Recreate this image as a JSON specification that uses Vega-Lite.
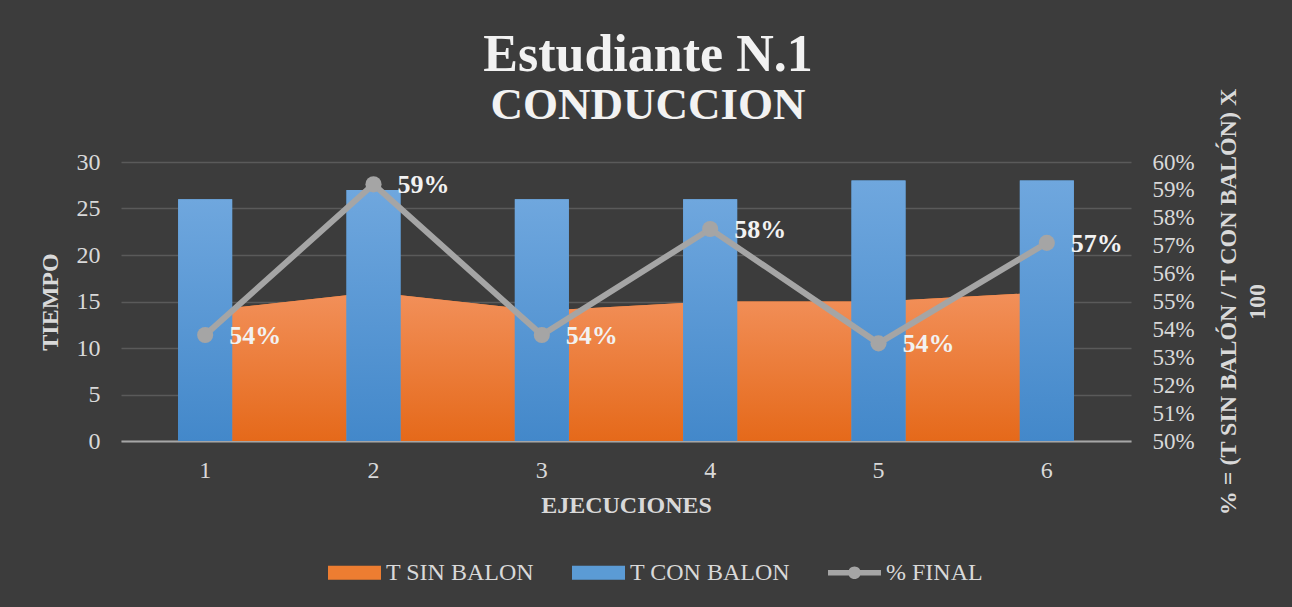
{
  "$schema": "https://vega.github.io/schema/vega-lite/v6.json",
  "width": 1010,
  "height": 279,
  "autosize": {"type": "none"},
  "padding": {"left": 121, "top": 162, "right": 161, "bottom": 166},
  "background": "#3c3c3c",
  "config": {
    "view": {"stroke": null},
    "axis": {"labelFont": "Liberation Serif", "titleFont": "Liberation Serif", "labelColor": "#d9d9d9", "titleColor": "#d9d9d9", "labelFontSize": 24, "titleFontSize": 24, "titleFontWeight": "bold", "ticks": false}
  },
  "title": {
    "text": "Estudiante N.1",
    "subtitle": "CONDUCCION",
    "anchor": "middle",
    "frame": "group",
    "font": "Liberation Serif",
    "fontSize": 52,
    "fontWeight": "bold",
    "color": "#f2f2f2",
    "subtitleFont": "Liberation Serif",
    "subtitleFontSize": 45,
    "subtitleFontWeight": "bold",
    "subtitleColor": "#f2f2f2",
    "subtitlePadding": 1,
    "offset": 0,
    "dx": 22,
    "dy": 41
  },
  "data": {
    "values": [
      {"e": "1", "sin": 14, "con": 26, "pct": 0.538},
      {"e": "2", "sin": 16, "con": 27, "pct": 0.592},
      {"e": "3", "sin": 14, "con": 26, "pct": 0.538},
      {"e": "4", "sin": 15, "con": 26, "pct": 0.576},
      {"e": "5", "sin": 15, "con": 28, "pct": 0.535},
      {"e": "6", "sin": 16, "con": 28, "pct": 0.571}
    ]
  },
  "encoding": {
    "x": {
      "field": "e",
      "type": "ordinal",
      "scale": {"paddingInner": 0, "paddingOuter": 0},
      "axis": {"title": "EJECUCIONES", "labelAngle": 0, "domainColor": "#a6a6a6", "domainWidth": 2, "labelPadding": 17, "titlePadding": 11, "grid": false}
    }
  },
  "layer": [
    {
      "encoding": {
        "y": {"type": "quantitative", "scale": {"domain": [0, 30]}}
      },
      "layer": [
        {
          "mark": {"type": "area"},
          "encoding": {
            "y": {"field": "sin", "type": "quantitative", "scale": {"domain": [0, 30]}, "axis": {"title": "TIEMPO", "values": [0, 5, 10, 15, 20, 25, 30], "domain": false, "grid": true, "gridColor": "#5a5a5a", "gridWidth": 1.5, "labelPadding": 21, "titlePadding": 14}},
            "color": {
              "datum": "T SIN BALON",
              "type": "nominal",
              "scale": {"domain": ["T SIN BALON", "T CON BALON", "% FINAL"], "range": ["#ED7D31", "#5B9BD5", "#A5A5A5"]},
              "legend": {
                "title": null, "orient": "none", "legendX": 207, "legendY": 384, "direction": "horizontal", "padding": 0,
                "symbolType": "M-1,-0.26H1V0.26H-1Z", "symbolSize": 2809, "symbolStrokeWidth": 0,
                "labelFont": "Liberation Serif", "labelFontSize": 24, "labelColor": "#d9d9d9", "labelOffset": 5, "columnPadding": 38,
                "encode": {"symbols": {"update": {
                  "shape": {"signal": "datum.label === '% FINAL' ? 'M-1,-0.1H-0.2V0.1H-1Z M0.2,-0.1H1V0.1H0.2Z M-0.24,0A0.24,0.24 0 1,1 0.24,0A0.24,0.24 0 1,1 -0.24,0Z' : 'M-1,-0.26H1V0.26H-1Z'"},
                  "fill": {"signal": "datum.label === 'T SIN BALON' ? '#ED7D31' : datum.label === 'T CON BALON' ? '#5B9BD5' : '#A5A5A5'"},
                  "stroke": {"value": "transparent"},
                  "opacity": {"value": 1}
                }}}
              }
            }
          }
        },
        {
          "mark": {"type": "area", "color": {"gradient": "linear", "x1": 0, "y1": 0, "x2": 0, "y2": 1, "stops": [{"offset": 0, "color": "#f2905a"}, {"offset": 1, "color": "#e5691a"}]}},
          "encoding": {
            "y": {"field": "sin", "type": "quantitative", "scale": {"domain": [0, 30]}, "axis": {"title": "TIEMPO", "values": [0, 5, 10, 15, 20, 25, 30], "domain": false, "grid": true, "gridColor": "#5a5a5a", "gridWidth": 1.5, "labelPadding": 21, "titlePadding": 14}}
          }
        },
        {
          "mark": {"type": "bar", "size": 54},
          "encoding": {
            "y": {"field": "con", "type": "quantitative", "scale": {"domain": [0, 30]}, "axis": {"title": "TIEMPO", "values": [0, 5, 10, 15, 20, 25, 30], "domain": false, "grid": true, "gridColor": "#5a5a5a", "gridWidth": 1.5, "labelPadding": 21, "titlePadding": 14}},
            "color": {"datum": "T CON BALON", "type": "nominal"}
          }
        },
        {
          "mark": {"type": "bar", "size": 54, "color": {"gradient": "linear", "x1": 0, "y1": 0, "x2": 0, "y2": 1, "stops": [{"offset": 0, "color": "#6fa7de"}, {"offset": 1, "color": "#4388ca"}]}},
          "encoding": {
            "y": {"field": "con", "type": "quantitative", "scale": {"domain": [0, 30]}, "axis": {"title": "TIEMPO", "values": [0, 5, 10, 15, 20, 25, 30], "domain": false, "grid": true, "gridColor": "#5a5a5a", "gridWidth": 1.5, "labelPadding": 21, "titlePadding": 14}}
          }
        }
      ]
    },
    {
      "encoding": {
        "y": {
          "field": "pct",
          "type": "quantitative",
          "scale": {"domain": [0.5, 0.6]},
          "axis": {
            "orient": "right",
            "format": ".0%",
            "values": [0.5, 0.51, 0.52, 0.53, 0.54, 0.55, 0.56, 0.57, 0.58, 0.59, 0.6],
            "labelFontSize": 23,
            "labelPadding": 21,
            "domain": false,
            "grid": false,
            "title": ["% = (T SIN BALÓN / T CON BALÓN) X", "100"],
            "titleAngle": 270,
            "titleLineHeight": 29,
            "titlePadding": 17
          }
        }
      },
      "layer": [
        {
          "mark": {"type": "line", "strokeWidth": 6},
          "encoding": {"color": {"datum": "% FINAL", "type": "nominal"}}
        },
        {
          "mark": {"type": "point", "filled": true, "size": 260, "opacity": 1, "color": "#A5A5A5"}
        },
        {
          "mark": {"type": "text", "align": "left", "baseline": "middle", "dx": 24, "dy": 1, "font": "Liberation Serif", "fontSize": 26, "fontWeight": "bold", "color": "#f2f2f2"},
          "encoding": {"text": {"field": "pct", "type": "quantitative", "format": ".0%"}}
        }
      ]
    }
  ],
  "resolve": {"scale": {"y": "independent"}}
}
